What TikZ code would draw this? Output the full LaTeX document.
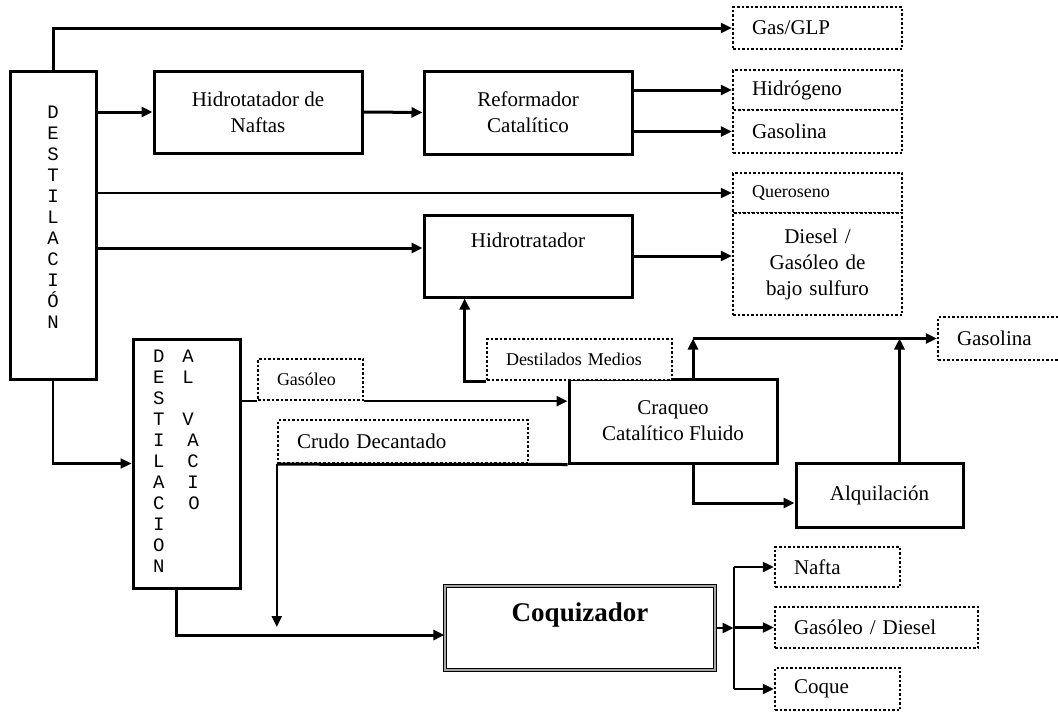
\documentclass[tikz,border=0pt]{standalone}
\usepackage{fontspec}
\setmainfont{Liberation Serif}
\newfontfamily\lettfamily{Liberation Mono}
\usetikzlibrary{arrows.meta,calc}

\newcommand\bigtxt{\fontsize{21}{26}\selectfont}
\newcommand\smalltxt{\fontsize{18}{22}\selectfont}
\newcommand\coqtxt{\fontsize{27}{30}\selectfont\bfseries}
\newcommand\lettxt{\lettfamily\fontsize{19}{21}\selectfont}

\begin{document}
\begin{tikzpicture}[
    x=1pt, y=-1pt,
    >={Triangle[length=11pt,width=10pt]},
    procbox/.style={
        draw,
        line width=3pt,
        align=center,
        font=\bigtxt,
        inner sep=0pt
    },
    prodbox/.style={
        draw,
        fill=white,
        line width=2.4pt,
        dash pattern=on 2.5pt off 2pt,
        align=left,
        inner xsep=19pt,
        inner ysep=0pt,
        font=\bigtxt
    },
    coqbox/.style={
        draw=black,
        double=rimcol,
        double distance=2pt,
        line width=1.2pt
    },
    flow/.style={->, line width=3pt},
    thinflow/.style={->, line width=2.2pt},
    stack/.style={font=\lettxt, align=center, inner sep=0pt}
]

\colorlet{rimcol}{gray!70}

\useasboundingbox (0,0) rectangle (1058,715);

% process units
\node[procbox, minimum width=86pt, minimum height=308pt] (dest) at (53,225) {};
\node[stack] (destlbl) at ([yshift=8pt]dest.center)
    {D\\E\\S\\T\\I\\L\\A\\C\\I\\Ó\\N};

\node[procbox, minimum width=208pt, minimum height=82pt] (hdn) at (258,112)
    {Hidrotatador de\\Naftas};
\node[procbox, minimum width=208pt, minimum height=83pt] (ref) at (528,112.5)
    {Reformador\\Catalítico};
\node[procbox, minimum width=208pt, minimum height=82pt] (hdt) at (528,256) {};
\node[font=\bigtxt] (hdtlbl) at ([yshift=16pt]hdt.center) {Hidrotratador};

\node[procbox, minimum width=107pt, minimum height=249pt,
      text width=67pt, inner xsep=20pt, align=left, font=\lettxt] (vac) at (186.5,463.5)
    {\begin{tabular}{@{}l@{\hspace{18pt}}l@{}}
        D & A\\
        E & L\\
        S & \\
        T & V\\
        I & \hspace{5pt}A\\
        L & \hspace{5pt}C\\
        A & \hspace{5pt}I\\
        C & \hspace{6pt}O\\
        I & \\
        O & \\
        N &
    \end{tabular}};

\node[procbox, minimum width=208pt, minimum height=84pt] (fcc) at (673,421)
    {Craqueo\\Catalítico Fluido};
\node[procbox, minimum width=167pt, minimum height=64pt] (alq) at (879.5,495)
    {Alquilación};
\node[coqbox, minimum width=270pt, minimum height=84pt] (coq) at (580,628) {};
\node[font=\coqtxt] (coqlbl) at ([yshift=13pt]coq.center) {Coquizador};

% products
\node[prodbox, text width=131pt, minimum height=42pt] (gas) at (817.5,28) {Gas/GLP};
\node[prodbox, text width=131pt, minimum height=40pt] (hid) at (817.5,90) {Hidrógeno};
\node[prodbox, text width=131pt, minimum height=43pt] (gsl1) at (817.5,131.5) {Gasolina};
\node[prodbox, text width=131pt, minimum height=40pt, font=\smalltxt] (ker) at (817.5,193)
    {Queroseno};
\node[prodbox, text width=131pt, minimum height=102pt, align=center] (dsl) at (817.5,264)
    {Diesel /\\Gasóleo de\\bajo sulfuro};
\node[prodbox, text width=86pt, minimum height=43pt] (gsl2) at (1000,338.5) {Gasolina};
\node[prodbox, text width=67pt, minimum height=41pt, font=\smalltxt] (gso) at (310.5,379.5)
    {Gasóleo};
\node[prodbox, text width=212pt, minimum height=43pt] (crd) at (403,441.5)
    {Crudo Decantado};
\node[prodbox, text width=147pt, minimum height=41pt, font=\smalltxt] (dm) at (579.5,359.5)
    {Destilados Medios};
\node[prodbox, text width=87pt, minimum height=40pt] (naf) at (837.5,567) {Nafta};
\node[prodbox, text width=165pt, minimum height=41pt] (gsd) at (876.5,627.5)
    {Gasóleo / Diesel};
\node[prodbox, text width=87pt, minimum height=42pt] (cqe) at (837.5,689) {Coque};

% helper points
\coordinate (hin) at ([yshift=8pt]hdt.west);
\coordinate (fup) at ([xshift=20pt]fcc.north);
\coordinate (fdn) at ([xshift=20pt]fcc.south);
\coordinate (aup) at ([xshift=20pt]alq.north);
\coordinate (ain) at ([yshift=-8pt]alq.west);
\coordinate (fcor) at (fup |- gsl2.west);
\coordinate (cin) at ([yshift=-7pt]coq.west);
\coordinate (mix) at (cin -| crd.south west);
\coordinate (vout) at ([xshift=-10pt]vac.south);

% connectors
\draw[flow] (dest.north) |- (gas.west);
\draw[flow] (dest.east |- hdn.west) -- (hdn.west);
\draw[flow] (hdn.east) -- (ref.west);
\draw[flow] (ref.east |- hid.west) -- (hid.west);
\draw[flow] (ref.east |- gsl1.west) -- (gsl1.west);
\draw[thinflow] (dest.east |- ker.west) -- (ker.west);
\draw[flow] (dest.east |- hin) -- (hin);
\draw[flow] (hdt.east) -- (hdt.east -| dsl.west);

\draw[thinflow] (dest.south) |- (vac.west);
\draw[line width=2.2pt] (vac.east |- gso.south west) -- (gso.south west);
\draw[thinflow] (gso.south east) -- (gso.south east -| fcc.west);

\draw[flow] (dm.south west) -| ($(hdt.south west)!0.2!(hdt.south east)$);
\draw[flow] (fup) -- (fcor);
\draw[flow] (fcor) -- (gsl2.west);
\draw[flow] (aup) -- (aup |- gsl2.west);
\draw[flow] (fdn) |- (ain);

\draw[line width=3pt] (fcc.south west) -- (crd.south west);
\draw[thinflow] (crd.south west) -- ([yshift=8pt]mix);
\draw[flow] (vout) |- (cin);

\draw[thinflow] (coq.east) -- ++(18,0) coordinate (bus);
\draw[line width=1.8pt] (bus |- naf.west) -- (bus |- cqe.west);
\draw[thinflow] (bus |- naf.west) -- (naf.west);
\draw[thinflow] (bus |- gsd.west) -- (gsd.west);
\draw[thinflow] (bus |- cqe.west) -- (cqe.west);

\end{tikzpicture}
\end{document}
